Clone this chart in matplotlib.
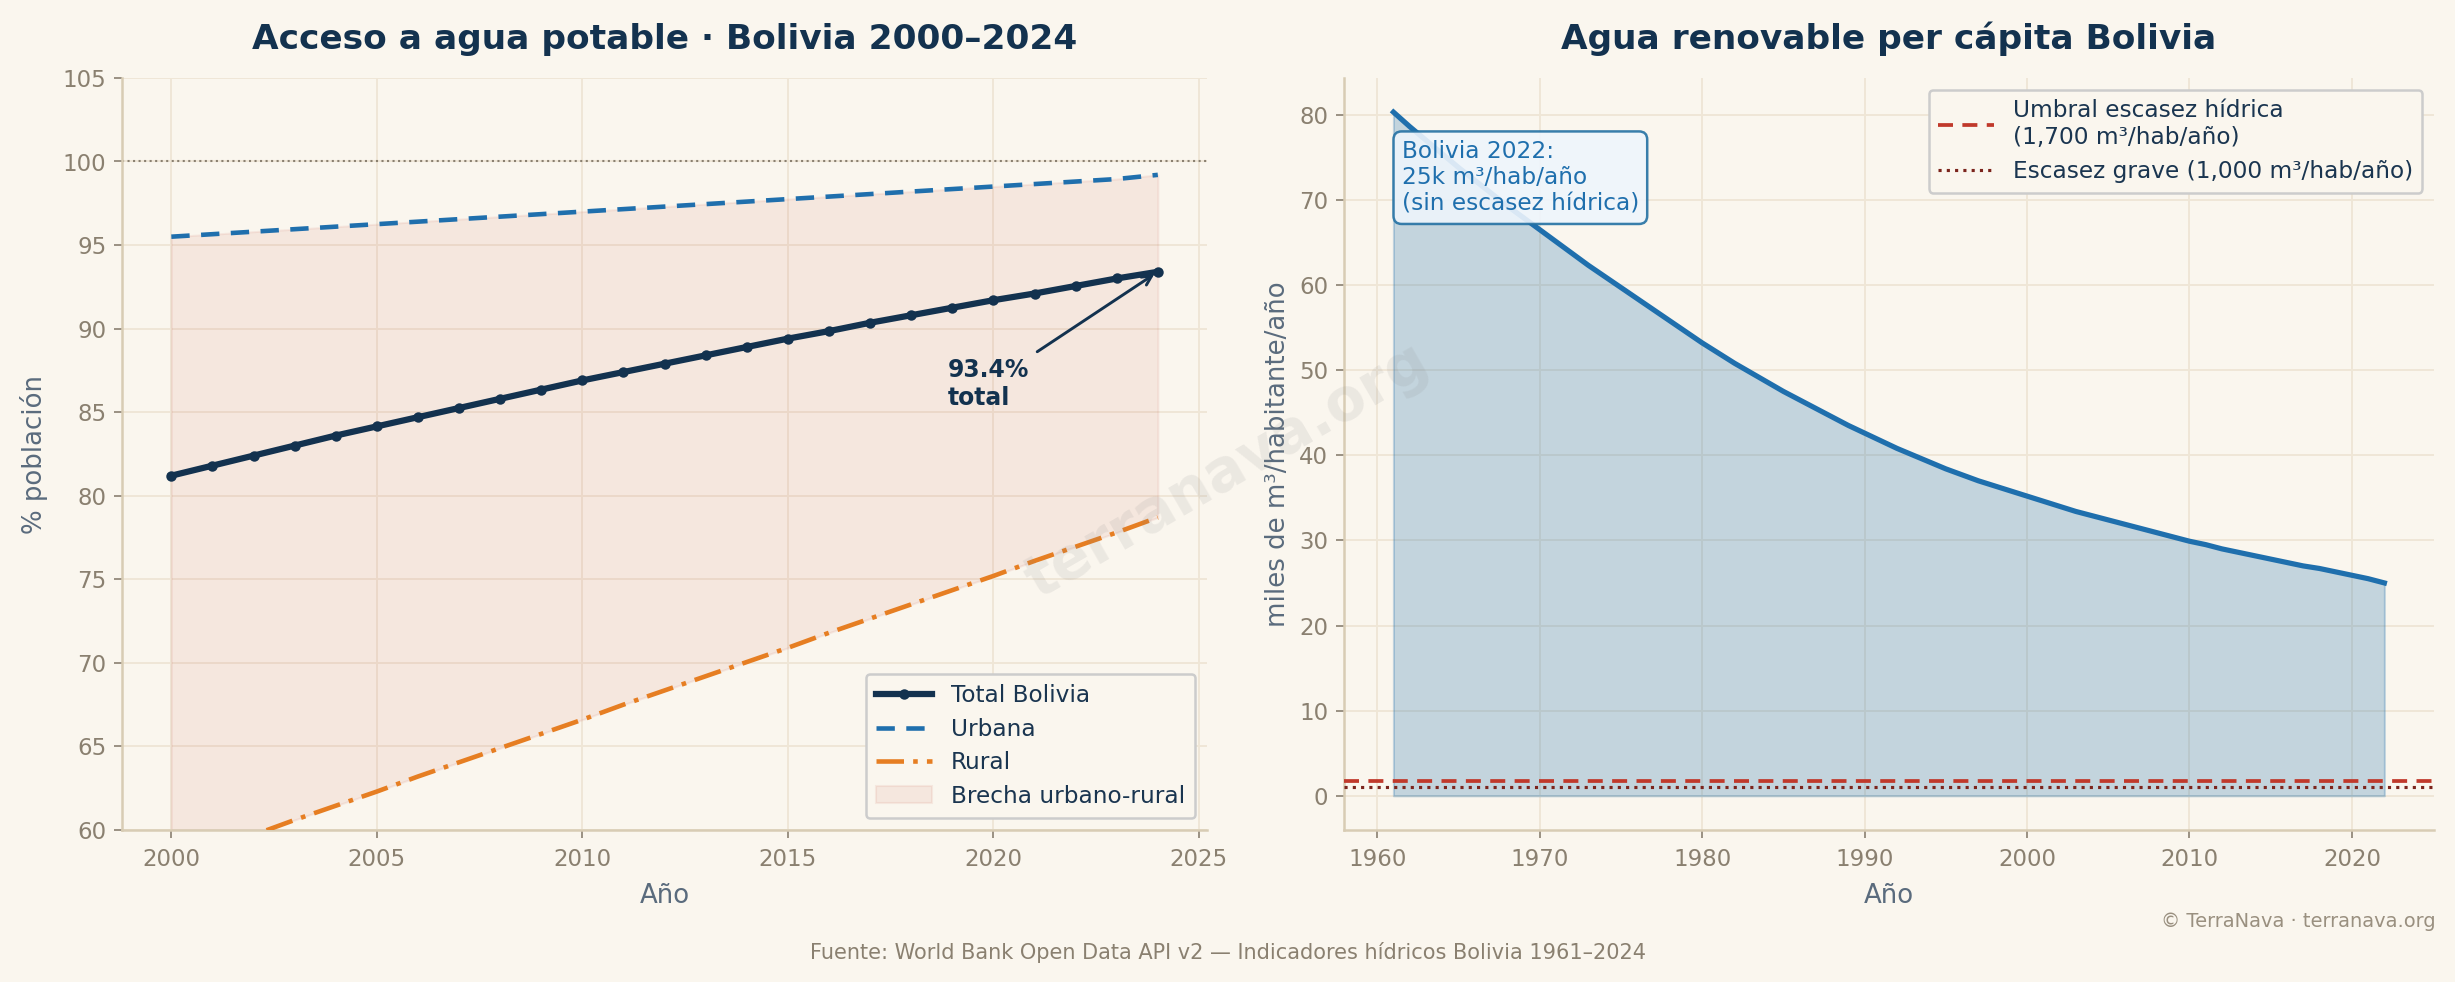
import matplotlib
matplotlib.use("Agg")
import matplotlib.pyplot as plt
import numpy as np

# ---------------- data ----------------
years_access = list(range(2000, 2025))
total_access = [81.2, 81.8, 82.4, 83.0, 83.6, 84.15, 84.7, 85.25, 85.8, 86.35,
                86.9, 87.4, 87.9, 88.4, 88.9, 89.4, 89.85, 90.35, 90.8, 91.25,
                91.7, 92.1, 92.55, 93.0, 93.4]
urban_access = [95.5, 95.65, 95.8, 95.95, 96.1, 96.25, 96.4, 96.55, 96.7, 96.85,
                97.0, 97.15, 97.3, 97.45, 97.6, 97.75, 97.9, 98.05, 98.2, 98.35,
                98.5, 98.65, 98.8, 98.95, 99.2]
rural_access = [58.0, 58.85, 59.7, 60.6, 61.45, 62.3, 63.2, 64.05, 64.9, 65.75,
                66.6, 67.5, 68.35, 69.2, 70.05, 70.9, 71.8, 72.65, 73.5, 74.35,
                75.2, 76.1, 76.95, 77.8, 78.7]

years_water = list(range(1961, 2023))
water_pc = [80.3, 78.6, 77.0, 75.4, 73.8, 72.3, 70.8, 69.3, 67.9, 66.5,
            65.1, 63.7, 62.3, 61.0, 59.7, 58.4, 57.1, 55.8, 54.5, 53.2,
            52.0, 50.8, 49.7, 48.6, 47.5, 46.5, 45.5, 44.5, 43.5, 42.6,
            41.7, 40.8, 40.0, 39.2, 38.4, 37.7, 37.0, 36.4, 35.8, 35.2,
            34.6, 34.0, 33.4, 32.9, 32.4, 31.9, 31.4, 30.9, 30.4, 29.9,
            29.5, 29.0, 28.6, 28.2, 27.8, 27.4, 27.0, 26.7, 26.3, 25.9,
            25.5, 25.0]
umbral_escasez = 1.7   # miles m3/hab/año
escasez_grave = 1.0

# ---------------- style ----------------
BG = "#faf6ee"
NAVY = "#13324f"
BLUE = "#1f6fad"
ORANGE = "#e67e22"
RED = "#c0392b"
DARKRED = "#7b241c"
GRID = "#efe6d6"
SPINE = "#d8ccb4"
TICK = "#8a8070"
LABEL = "#5a6b7d"

plt.rcParams["font.family"] = ["DejaVu Sans"]

fig = plt.figure(figsize=(16.367, 6.547), dpi=150, facecolor=BG)
ax1 = fig.add_axes([0.0497, 0.1548, 0.4420, 0.7658])
ax2 = fig.add_axes([0.5474, 0.1548, 0.4440, 0.7658])

for ax in (ax1, ax2):
    ax.set_facecolor(BG)
    ax.grid(True, color=GRID, lw=0.9, zorder=0)
    ax.set_axisbelow(True)
    for s in ("top", "right"):
        ax.spines[s].set_visible(False)
    for s in ("left", "bottom"):
        ax.spines[s].set_color(SPINE)
        ax.spines[s].set_linewidth(1.2)
    ax.tick_params(colors=TICK, labelsize=11, length=4, width=0.8)
    ax.tick_params(axis="x", pad=4.5)

# ---------------- left ----------------
h_fill = ax1.fill_between(years_access, rural_access, urban_access, color=RED, alpha=0.08,
                          label="Brecha urbano-rural", zorder=1)
ax1.axhline(100, color=TICK, ls=":", lw=1.0, zorder=2)
h_tot, = ax1.plot(years_access, total_access, color=NAVY, lw=3, marker="o", ms=4,
                  label="Total Bolivia", zorder=4)
h_urb, = ax1.plot(years_access, urban_access, color=BLUE, lw=2.2, ls=(0, (4, 2.5)),
                  label="Urbana", zorder=3)
h_rur, = ax1.plot(years_access, rural_access, color=ORANGE, lw=2.2, ls=(0, (6, 2, 1, 2)),
                  label="Rural", zorder=3)
ax1.set_ylim(60, 105)
ax1.set_xlim(1998.8, 2025.2)
ax1.set_yticks(np.arange(60, 106, 5))
ax1.set_xticks(np.arange(2000, 2026, 5))
ax1.set_xlabel("Año", fontsize=12.5, color=LABEL, labelpad=6)
ax1.set_ylabel("% población", fontsize=12.5, color=LABEL, labelpad=7)
ax1.set_title("Acceso a agua potable · Bolivia 2000–2024", fontsize=16.5,
              fontweight="bold", color=NAVY, pad=14)
ax1.annotate(f"{total_access[-1]:.1f}%\ntotal", xy=(years_access[-1], total_access[-1]),
             xytext=(2018.9, 86.7), ha="left", va="center", fontsize=11.3,
             fontweight="bold", color=NAVY,
             arrowprops=dict(arrowstyle="->", color=NAVY, lw=1.4), zorder=5)
leg1 = ax1.legend(handles=[h_tot, h_urb, h_rur, h_fill], loc="lower right",
                  fontsize=11.2, frameon=True, facecolor=BG,
                  edgecolor="#cccccc", framealpha=1, labelcolor="#1a3550",
                  borderpad=0.45, handlelength=2.4, labelspacing=0.45)
leg1.get_frame().set_linewidth(1.2)

# ---------------- right ----------------
ax2.fill_between(years_water, 0, water_pc, color=BLUE, alpha=0.25, zorder=1)
ax2.plot(years_water, water_pc, color=BLUE, lw=2.5, zorder=3)
ax2.axhline(umbral_escasez, color=RED, ls=(0, (4, 2.5)), lw=1.8,
            label="Umbral escasez hídrica\n(1,700 m³/hab/año)", zorder=4)
ax2.axhline(escasez_grave, color=DARKRED, ls=":", lw=1.5,
            label="Escasez grave (1,000 m³/hab/año)", zorder=4)
ax2.set_xticks(np.arange(1960, 2021, 10))
ax2.set_yticks(np.arange(0, 81, 10))
ax2.set_xlabel("Año", fontsize=12.5, color=LABEL, labelpad=6)
ax2.set_ylabel("miles de m³/habitante/año", fontsize=12.5, color=LABEL)
ax2.set_title("Agua renovable per cápita Bolivia", fontsize=16.5,
              fontweight="bold", color=NAVY, pad=14)
ax2.text(0.053, 0.918, f"Bolivia {years_water[-1]}:\n{water_pc[-1]:.0f}k m³/hab/año\n(sin escasez hídrica)",
         transform=ax2.transAxes, ha="left", va="top", fontsize=11.2, color=BLUE,
         bbox=dict(boxstyle="round,pad=0.35", facecolor="#eef5fc", edgecolor="#2471a3",
                   lw=1.2, alpha=0.9), zorder=6)
leg2 = ax2.legend(loc="upper right", fontsize=11.2, frameon=True, facecolor=BG,
                  edgecolor="#cccccc", framealpha=1, labelcolor="#1a3550",
                  handlelength=2.4, labelspacing=0.5)
leg2.get_frame().set_linewidth(1.2)

# ---------------- figure text ----------------
fig.text(0.50, 0.52, "terranava.org", fontsize=28, fontweight="bold", color="#888888",
         alpha=0.13, rotation=30, ha="center", va="center")
fig.text(0.5, 0.03, "Fuente: World Bank Open Data API v2 — Indicadores hídricos Bolivia 1961–2024",
         ha="center", va="center", fontsize=10, color=TICK)
fig.text(0.992, 0.062, "© TerraNava · terranava.org", ha="right", va="center",
         fontsize=9.3, color="#9a9080")

fig.savefig("out.png", dpi=150, facecolor=BG)
